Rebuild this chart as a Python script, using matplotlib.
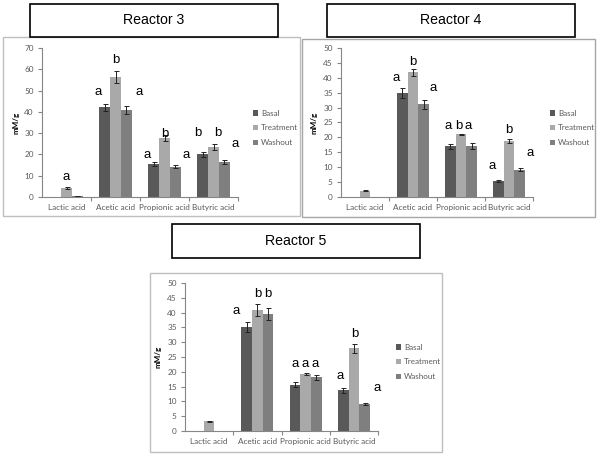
import numpy as np
import matplotlib
matplotlib.use("Agg")
import matplotlib.pyplot as plt
from matplotlib.patches import Rectangle, Patch

W, H = 600, 454

categories = ["Lactic acid", "Acetic acid", "Propionic acid", "Butyric acid"]
series = ["Basal", "Treatment", "Washout"]
colors = ["#595959", "#a9a9a9", "#7f7f7f"]

# Reactor 3
r3_basal = [np.nan, 42.2, 15.5, 20.0]
r3_basal_err = [np.nan, 1.6, 0.8, 1.0]
r3_treat = [4.2, 56.2, 27.7, 23.5]
r3_treat_err = [0.3, 2.8, 1.6, 1.2]
r3_wash = [0.3, 40.8, 14.2, 16.4]
r3_wash_err = [0.05, 2.0, 0.8, 0.9]
r3_letters = ["a", "a", "b", "a", "a", "b", "a", "b", "b", "a"]
r3_letter_bar = [(0, 1), (1, 0), (1, 1), (1, 2), (2, 0), (2, 1), (2, 2), (3, 0), (3, 1), (3, 2)]
r3_letter_y = [8.2, 47.7, 62.9, 47.7, 18.4, 28.3, 18.4, 28.6, 28.6, 23.6]
r3_letter_dx = [0, -0.6, 0.05, 1.15, -0.6, 0, 1.0, -0.4, 0.4, 1.0]

# Reactor 4
r4_basal = [np.nan, 34.9, 17.0, 5.3]
r4_basal_err = [np.nan, 1.6, 0.9, 0.3]
r4_treat = [2.1, 41.9, 21.0, 18.7]
r4_treat_err = [0.15, 1.2, 0.3, 0.6]
r4_wash = [np.nan, 31.1, 17.1, 9.1]
r4_wash_err = [np.nan, 1.6, 0.9, 0.5]
r4_letters = ["a", "b", "a", "a", "b", "a", "a", "b", "a"]
r4_letter_bar = [(1, 0), (1, 1), (1, 2), (2, 0), (2, 1), (2, 2), (3, 0), (3, 1), (3, 2)]
r4_letter_y = [38.8, 44.2, 35.5, 22.9, 22.9, 22.9, 9.3, 21.6, 13.6]
r4_letter_dx = [-0.6, 0, 0.9, -0.25, -0.25, -0.35, -0.55, 0, 1.0]

# Reactor 5
r5_basal = [np.nan, 35.2, 15.7, 13.8]
r5_basal_err = [np.nan, 1.7, 0.9, 0.8]
r5_treat = [3.3, 41.0, 19.2, 28.0]
r5_treat_err = [0.15, 2.0, 0.4, 1.5]
r5_wash = [np.nan, 39.6, 18.1, 9.2]
r5_wash_err = [np.nan, 2.0, 0.9, 0.3]
r5_letters = ["a", "b", "b", "a", "a", "a", "a", "b", "a"]
r5_letter_bar = [(1, 0), (1, 1), (1, 2), (2, 0), (2, 1), (2, 2), (3, 0), (3, 1), (3, 2)]
r5_letter_y = [39.6, 45.4, 45.4, 21.5, 21.5, 21.5, 17.5, 31.7, 13.5]
r5_letter_dx = [-1.0, 0, 0, 0, 0, -0.1, -0.3, 0.1, 1.2]

TICK_FONT = ["Lato", "DejaVu Sans"]
LETTER_FONT = ["Liberation Sans", "DejaVu Sans"]
AXC = "#868686"
TXT = "#595959"

fig = plt.figure(figsize=(6, 4.54), dpi=100)


def rect_px(x0, y0, x1, y1):
    return [x0 / W, 1 - y1 / H, (x1 - x0) / W, (y1 - y0) / H]


def frame(x0, y0, x1, y1, ec, lw, fill=False, z=1):
    r = Rectangle((x0 / W, 1 - y1 / H), (x1 - x0) / W, (y1 - y0) / H,
                  transform=fig.transFigure, fill=fill, facecolor="white",
                  edgecolor=ec, linewidth=lw, zorder=z)
    fig.add_artist(r)


def panel(ax_px, ymax, ystep, vals, errs, letters, letter_bar, letter_y, letter_dx,
          legend_px, ylabel_x_px):
    x0, y0, x1, y1 = ax_px
    ax = fig.add_axes(rect_px(x0, y0, x1, y1))
    n = len(categories)
    x = np.arange(n)
    bw = 1 / 4.5
    for i, (v, e, c, s) in enumerate(zip(vals, errs, colors, series)):
        pos = x + (i - 1) * bw
        v = np.asarray(v, float)
        e = np.asarray(e, float)
        m = ~np.isnan(v)
        ax.bar(pos[m], v[m], width=bw, color=c, label=s, zorder=2)
        ax.errorbar(pos[m], v[m], yerr=e[m], fmt="none", ecolor="#222222",
                    elinewidth=0.7, capsize=1.8, capthick=0.7, zorder=3)
    for lab, (ci, si), ly, dx in zip(letters, letter_bar, letter_y, letter_dx):
        lx = ci + (si - 1) * bw + dx * bw
        ax.text(lx, ly, lab, ha="center", va="baseline", fontsize=9.5,
                family=LETTER_FONT, color="black", zorder=4)
    ax.set_xlim(-0.5, n - 0.5)
    ax.set_ylim(0, ymax)
    ax.set_yticks(np.arange(0, ymax + 0.1, ystep))
    ax.set_xticks(x)
    ax.set_xticklabels(categories)
    ax.set_xticks(np.arange(0.5, n, 1.0), minor=True)
    for sp in ["top", "right"]:
        ax.spines[sp].set_visible(False)
    for sp in ["left", "bottom"]:
        ax.spines[sp].set_color(AXC)
        ax.spines[sp].set_linewidth(0.8)
    ax.tick_params(axis="x", which="major", length=0, pad=5)
    ax.tick_params(axis="x", which="minor", length=3, color=AXC, width=0.8)
    ax.tick_params(axis="y", length=3, color=AXC, width=0.8, pad=3)
    for t in ax.get_xticklabels() + ax.get_yticklabels():
        t.set_fontsize(5.9)
        t.set_family(TICK_FONT)
        t.set_color(TXT)
    ax.set_ylabel("mM/g", fontsize=5.8, fontweight="bold", family=TICK_FONT)
    ax.yaxis.set_label_coords((ylabel_x_px - x0) / (x1 - x0), 0.5)
    ax.patch.set_alpha(0)
    lx, ly = legend_px
    handles = [Patch(facecolor=c, edgecolor="none") for c in colors]
    leg = ax.legend(handles, series, loc="center left",
                    bbox_to_anchor=(lx / W, 1 - ly / H), bbox_transform=fig.transFigure,
                    frameon=False, borderpad=0, handlelength=0.6, handleheight=0.6,
                    handletextpad=0.4, labelspacing=0.95,
                    prop={"family": TICK_FONT, "size": 5.8})
    for t in leg.get_texts():
        t.set_color(TXT)
    return ax


# frames
frame(3, 37, 300, 216, "#bfbfbf", 1.0)
frame(302, 39, 595, 217, "#a6a6a6", 1.0)
frame(150, 273, 442, 452, "#bfbfbf", 1.0)
# title boxes
for (bx0, by0, bx1, by1, t) in [(30, 4, 278, 37, "Reactor 3"),
                                (327, 4, 575, 37, "Reactor 4"),
                                (172, 224, 420, 258, "Reactor 5")]:
    frame(bx0, by0, bx1, by1, "black", 1.2, fill=True, z=5)
    fig.text((bx0 + bx1) / 2 / W, 1 - (by0 + by1) / 2 / H, t, ha="center",
             va="center", fontsize=10.2, family=LETTER_FONT, zorder=6)

panel((42, 48, 238, 197), 70, 10,
      [r3_basal, r3_treat, r3_wash], [r3_basal_err, r3_treat_err, r3_wash_err],
      r3_letters, r3_letter_bar, r3_letter_y, r3_letter_dx, (249, 128), 19)
panel((341, 48, 533, 197), 50, 5,
      [r4_basal, r4_treat, r4_wash], [r4_basal_err, r4_treat_err, r4_wash_err],
      r4_letters, r4_letter_bar, r4_letter_y, r4_letter_dx, (546, 128), 318)
panel((185, 283, 378, 431), 50, 5,
      [r5_basal, r5_treat, r5_wash], [r5_basal_err, r5_treat_err, r5_wash_err],
      r5_letters, r5_letter_bar, r5_letter_y, r5_letter_dx, (392, 362), 162)

fig.savefig("out.png", dpi=100)
